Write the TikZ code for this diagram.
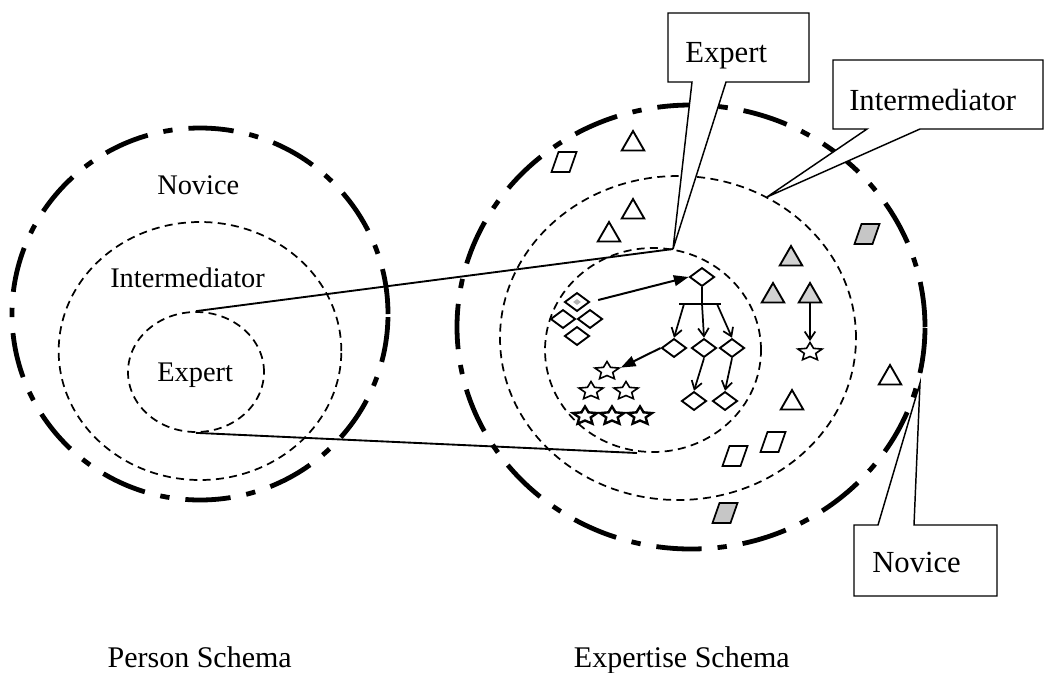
\documentclass[tikz,border=0pt]{standalone}
\usepackage{fontspec}
\setmainfont{Liberation Serif}
\usetikzlibrary{shapes.geometric,arrows.meta}
\tikzset{
  ringouter/.style={ellipse, inner sep=0pt, draw, line width=3.6pt, dash pattern=on 34pt off 12pt on 7pt off 12pt},
  ringinner/.style={ellipse, inner sep=0pt, draw, line width=1.3pt, dash pattern=on 6pt off 4pt},
  link/.style={line width=1.4pt},
  calloutbox/.style={draw, fill=white, line width=1.1pt, line join=miter},
  boxtext/.style={font=\fontsize{23}{27}\selectfont, anchor=base west, inner sep=0pt},
  lbltext/.style={font=\fontsize{21.3}{25}\selectfont, anchor=base west, inner sep=0pt},
  captext/.style={font=\fontsize{22.5}{27}\selectfont, anchor=base east, inner sep=0pt},
  dia/.style={diamond, draw, line width=1.4pt, minimum width=18.75pt, minimum height=14pt, inner sep=0pt},
  tri/.style={regular polygon, regular polygon sides=3, draw, line width=1.4pt, minimum size=19.5pt, inner sep=0pt},
  shadetri/.style={tri, fill=gray!35},
  pgram/.pic={\draw[line width=1.3pt, line join=miter, pic actions] (-12.5,10) -- (5.5,10) -- (12.5,-10) -- (-5.5,-10) -- cycle;},
  stars/.style={star, star points=5, star point ratio=2.1, draw, line width=1.2pt, minimum size=19pt, inner sep=0pt, yscale=0.75, transform shape},
  bigstar/.style={stars, line width=1.8pt},
  fillarrow/.style={line width=1.5pt, -{Triangle[length=11pt,width=8pt]}},
  openarrow/.style={line width=1.3pt, -{Straight Barb[length=6pt,width=8pt]}},
}
\begin{document}
\begin{tikzpicture}[x=0.75pt,y=-0.75pt]
\useasboundingbox (0,0) rectangle (1045,672);
% Person schema
\node[ringouter, minimum width=282pt, minimum height=279pt] (pn) at (200,314) {};
\node[ringinner, minimum width=212pt, minimum height=193.5pt] (pi) at (200,351) {};
\node[ringinner, minimum width=102pt, minimum height=90pt] (pe) at (196,372) {};
\node[lbltext] (lnov) at (157,194) {Novice};
\node[lbltext] (lint) at (110,287) {Intermediator};
\node[lbltext] (lexp) at (157,381) {Expert};
% Expertise schema
\node[ringouter, minimum width=351pt, minimum height=333pt] (xn) at (691,327) {};
\node[ringinner, minimum width=267pt, minimum height=243pt] (xi) at (678,338) {};
\node[ringinner, minimum width=162pt, minimum height=153pt] (xe) at (653,350) {};
\coordinate (xtop) at (673,249);
\coordinate (xbot) at (637,453);
\coordinate (itip) at (767,197);
\coordinate (ntip) at (920,383);
\draw[link] (pe.north) -- (xtop);
\draw[link] (pe.south) -- (xbot);
% outer ring items
\pic (p1) at (564,162) {pgram};
\node[tri] (t1) at (633,144) {};
\pic[fill=gray!45] (p5) at (867,234) {pgram};
\node[tri] (t8) at (890,378) {};
\pic[fill=gray!45] (p4) at (725,513) {pgram};
% middle ring items
\node[tri] (t2) at (633,212) {};
\node[tri] (t3) at (609,235) {};
\node[shadetri] (t4) at (791,259) {};
\node[shadetri] (t5) at (773,296) {};
\node[shadetri] (t6) at (810,296) {};
\node[stars] (s7) at (810,352) {};
\node[tri] (t7) at (792,403) {};
\pic (p2) at (735,456) {pgram};
\pic (p3) at (773,442) {pgram};
% inner ring items
\node[dia] (ct) at (577,302) {};
\node[diamond, fill=gray!60, minimum width=6pt, minimum height=4.5pt, inner sep=0pt] (ctdot) at (577,302) {};
\node[dia] (cl) at (563,319) {};
\node[dia] (cr) at (590,319) {};
\node[dia] (cb) at (577,336) {};
\node[dia] (d0) at (702,277) {};
\node[dia] (m1) at (674,348) {};
\node[dia] (m2) at (704,348) {};
\node[dia] (m3) at (732,348) {};
\node[dia] (b1) at (694,401) {};
\node[dia] (b2) at (725,401) {};
\node[stars] (s1) at (607,371) {};
\node[stars] (s2) at (591,391) {};
\node[stars] (s3) at (626,391) {};
\node[bigstar] (s4) at (585,416) {};
\node[bigstar] (s5) at (612,416) {};
\node[bigstar] (s6) at (640,416) {};
\coordinate (bar) at (702,304);
\coordinate (barl) at (679,304);
\coordinate (barr) at (721,304);
\coordinate (bl) at (684,304);
\coordinate (br) at (717,304);
\draw[fillarrow, shorten <=6pt] (ct.east) -- (d0.west);
\draw[line width=1.4pt] (d0.south) -- (bar);
\draw[line width=1.6pt] (barl) -- (barr);
\draw[openarrow] (bl) -- (m1.north);
\draw[openarrow] (bar) -- (m2.north);
\draw[openarrow] (br) -- (m3.north);
\draw[openarrow] (m2.south) -- (b1.north);
\draw[openarrow] (m3.south) -- (b2.north);
\draw[fillarrow] (m1.west) -- (s1.18);
\draw[openarrow] (t6.south) -- (s7.north);
% callouts
\draw[calloutbox] (668,13) -- (809,13) -- (809,82) -- (726,82) -- (xtop) -- (692,82) -- (668,82) -- cycle;
\node[boxtext] (bexp) at (685,62) {Expert};
\draw[calloutbox] (833,60) -- (1043,60) -- (1043,129) -- (920,129) -- (itip) -- (867,129) -- (833,129) -- cycle;
\node[boxtext] (bint) at (849,110) {Intermediator};
\draw[calloutbox] (854,525) -- (878,525) -- (ntip) -- (914,525) -- (997,525) -- (997,596) -- (854,596) -- cycle;
\node[boxtext] (bnov) at (872,572) {Novice};
% captions
\node[captext] (cap1) at (292,667) {Person Schema};
\node[captext] (cap2) at (790,667) {Expertise Schema};
\end{tikzpicture}
\end{document}
